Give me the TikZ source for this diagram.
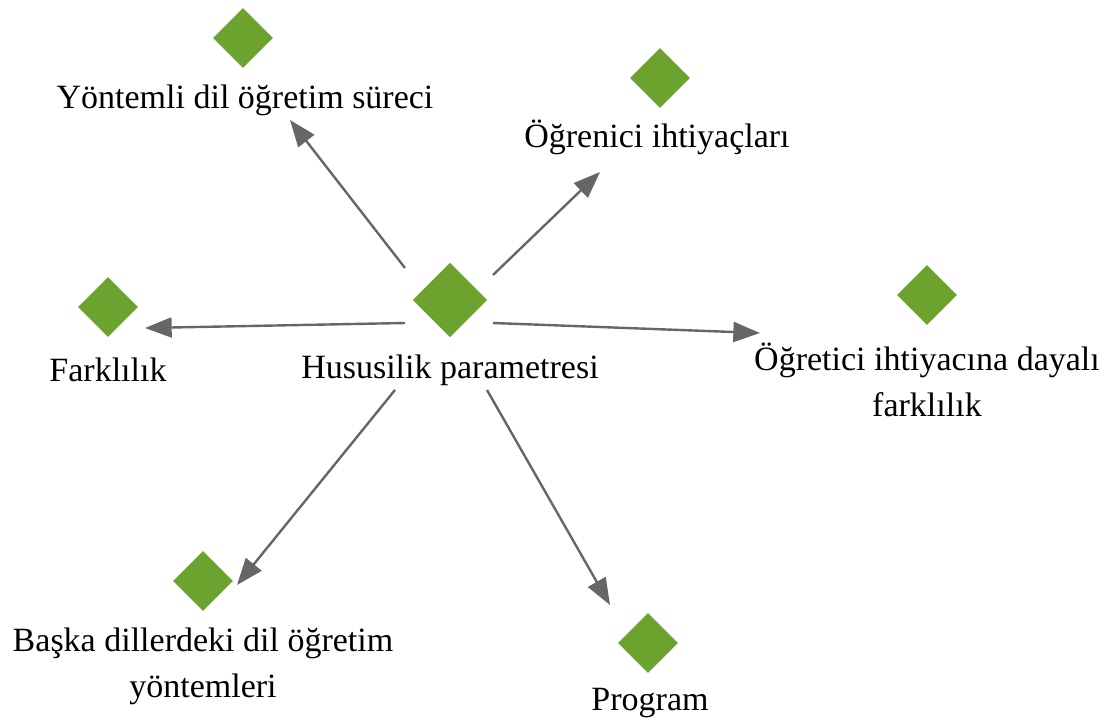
\documentclass[tikz,border=0pt]{standalone}
\usepackage{fontspec}
\setmainfont{Liberation Serif}
\usetikzlibrary{shapes.geometric,arrows.meta}
\definecolor{leaf}{HTML}{6BA32E}
\definecolor{link}{HTML}{666666}
\tikzset{
  gem/.style={diamond,fill=leaf,draw=none,inner sep=0pt,minimum width=#1,minimum height=#1},
  gem/.default=45pt,
  lbl/.style={inner sep=0pt,align=center,font=\fontsize{25.5pt}{34.5pt}\selectfont},
  link/.style={draw=link,line width=1.8pt,-{Triangle[length=20pt,width=15pt]}}
}
\begin{document}
\begin{tikzpicture}[x=0.75pt,y=-0.75pt]
\useasboundingbox (0,0) rectangle (1111,725);
% central concept
\node[gem=56pt] (c) at (450,300) {};
\node[lbl] (cl) at (450,370) {Hususilik parametresi};
% surrounding concepts
\node[gem] (d1) at (243,38) {};
\node[lbl] (l1) at (245,100) {Yöntemli dil öğretim süreci};
\node[gem] (d2) at (660,78) {};
\node[lbl] (l2) at (657,137) {Öğrenici ihtiyaçları};
\node[gem] (d3) at (108,307) {};
\node[lbl] (l3) at (108,370) {Farklılık};
\node[gem] (d4) at (927,295) {};
\node[lbl] (l4) at (927,380) {Öğretici ihtiyacına dayalı\\farklılık};
\node[gem] (d5) at (203,581) {};
\node[lbl] (l5) at (203,666) {Başka dillerdeki dil öğretim\\yöntemleri};
\node[gem] (d6) at (648,643) {};
\node[lbl] (l6) at (650,703) {Program};
% connector ends
\coordinate (s1) at (405,268); \coordinate (e1) at (290,120);
\coordinate (s2) at (493,275); \coordinate (e2) at (600,172);
\coordinate (s3) at (405,323); \coordinate (e3) at (145,328);
\coordinate (s4) at (493,323); \coordinate (e4) at (760,333);
\coordinate (s5) at (395,390); \coordinate (e5) at (237,585);
\coordinate (s6) at (487,390); \coordinate (e6) at (610,605);
\foreach \i in {1,...,6} \draw[link] (s\i) -- (e\i);
\end{tikzpicture}
\end{document}
